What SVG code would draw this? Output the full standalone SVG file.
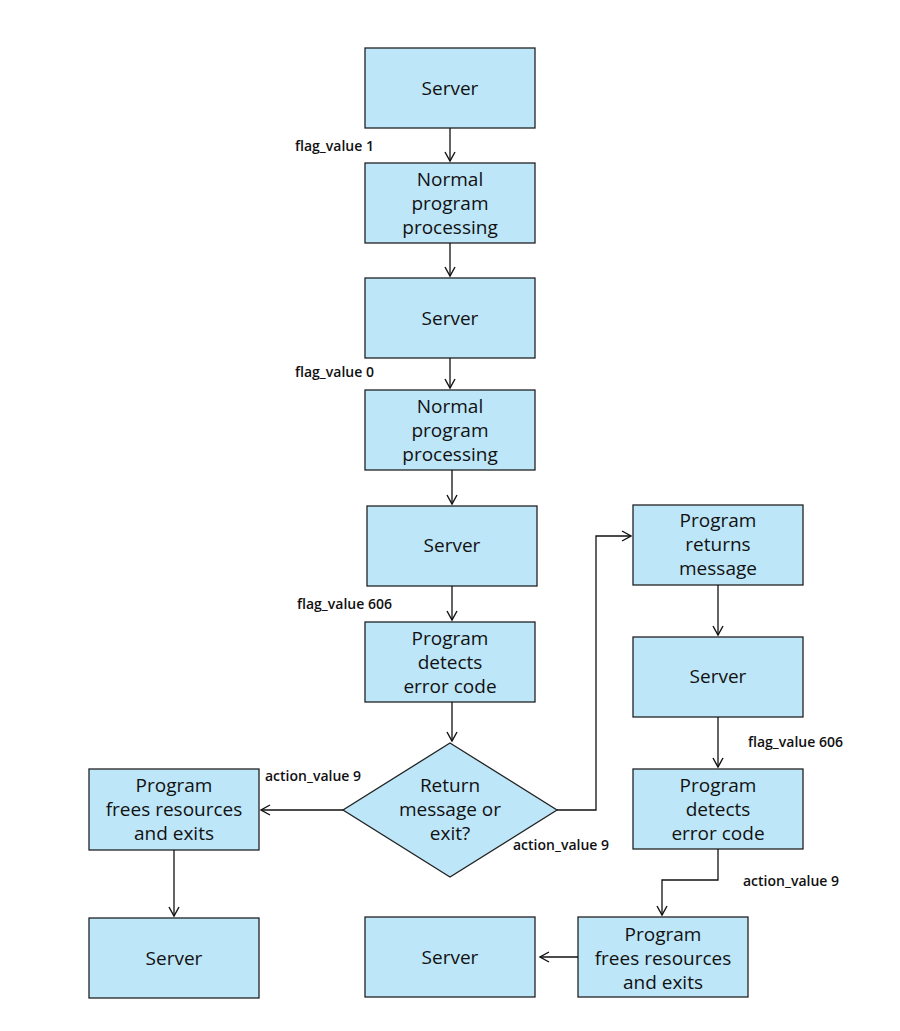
<svg xmlns="http://www.w3.org/2000/svg" width="900" height="1031" viewBox="0 0 900 1031">
<style>
.n{fill:#bde6f8;stroke:#222;stroke-width:1.3}
.t{font-family:"Open Sans","Liberation Sans",sans-serif;font-size:19px;fill:#111;text-anchor:middle}
.l{font-family:"Open Sans","Liberation Sans",sans-serif;font-size:14px;font-weight:600;fill:#111}
.c{fill:none;stroke:#111;stroke-width:1.3;marker-end:url(#a)}
</style>
<defs><marker id="a" markerWidth="12" markerHeight="12" refX="10" refY="6" orient="auto" markerUnits="userSpaceOnUse"><path d="M1,1 L10,6 L1,11" fill="none" stroke="#111" stroke-width="1.4"/></marker></defs>
<rect width="900" height="1031" fill="#fff"/>
<g id="n1"><rect class="n" x="365" y="48" width="170" height="80"/><text class="t" x="450" y="95">Server</text></g>
<g id="n2"><rect class="n" x="365" y="163" width="170" height="80"/><text class="t" x="450" y="186">Normal</text><text class="t" x="450" y="210">program</text><text class="t" x="450" y="234">processing</text></g>
<g id="n3"><rect class="n" x="365" y="278" width="170" height="80"/><text class="t" x="450" y="325">Server</text></g>
<g id="n4"><rect class="n" x="365" y="390" width="170" height="80"/><text class="t" x="450" y="413">Normal</text><text class="t" x="450" y="437">program</text><text class="t" x="450" y="461">processing</text></g>
<g id="n5"><rect class="n" x="367" y="506" width="170" height="80"/><text class="t" x="452" y="552">Server</text></g>
<g id="n6"><rect class="n" x="365" y="622" width="170" height="80"/><text class="t" x="450" y="645">Program</text><text class="t" x="450" y="669">detects</text><text class="t" x="450" y="693">error code</text></g>
<g id="n7"><polygon class="n" points="450,743 557,810 450,877 343,810"/><text class="t" x="450" y="792">Return</text><text class="t" x="450" y="816">message or</text><text class="t" x="450" y="840">exit?</text></g>
<g id="n8"><rect class="n" x="89" y="769" width="170" height="81"/><text class="t" x="174" y="792">Program</text><text class="t" x="174" y="816">frees resources</text><text class="t" x="174" y="840">and exits</text></g>
<g id="n9"><rect class="n" x="89" y="918" width="170" height="80"/><text class="t" x="174" y="965">Server</text></g>
<g id="n10"><rect class="n" x="633" y="505" width="170" height="80"/><text class="t" x="718" y="527">Program</text><text class="t" x="718" y="551">returns</text><text class="t" x="718" y="575">message</text></g>
<g id="n11"><rect class="n" x="633" y="637" width="170" height="80"/><text class="t" x="718" y="683">Server</text></g>
<g id="n12"><rect class="n" x="633" y="769" width="170" height="80"/><text class="t" x="718" y="792">Program</text><text class="t" x="718" y="816">detects</text><text class="t" x="718" y="840">error code</text></g>
<g id="n13"><rect class="n" x="578" y="917" width="170" height="80"/><text class="t" x="663" y="941">Program</text><text class="t" x="663" y="965">frees resources</text><text class="t" x="663" y="989">and exits</text></g>
<g id="n14"><rect class="n" x="365" y="917" width="170" height="80"/><text class="t" x="450" y="964">Server</text></g>
<g id="connectors">
<path class="c" d="M450,128V161"/><path class="c" d="M450,243V276"/><path class="c" d="M450,358V388"/>
<path class="c" d="M452,470V504"/><path class="c" d="M452,586V620"/><path class="c" d="M452,702V741"/>
<path class="c" d="M343,810H261"/><path class="c" d="M174,850V916"/>
<path class="c" d="M557,810H596V536H631"/>
<path class="c" d="M718,585V635"/><path class="c" d="M718,717V767"/>
<path class="c" d="M718,849V880H662V915"/><path class="c" d="M578,957H540"/>
</g>
<text class="l" x="295" y="151">flag_value 1</text>
<text class="l" x="295" y="377">flag_value 0</text>
<text class="l" x="297" y="609">flag_value 606</text>
<text class="l" x="265" y="781">action_value 9</text>
<text class="l" x="513" y="850">action_value 9</text>
<text class="l" x="748" y="747">flag_value 606</text>
<text class="l" x="743" y="886">action_value 9</text>
</svg>
